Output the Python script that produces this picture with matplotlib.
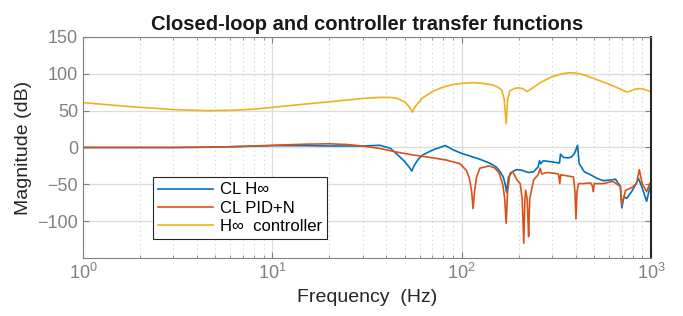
import numpy as np
import matplotlib
matplotlib.use("Agg")
import matplotlib.pyplot as plt
from matplotlib.ticker import LogLocator, NullFormatter

plt.rcParams['font.family'] = ['Liberation Sans', 'DejaVu Sans']
plt.rcParams['mathtext.fontset'] = 'custom'
plt.rcParams['mathtext.rm'] = 'Liberation Sans'
plt.rcParams['mathtext.it'] = 'Liberation Sans'

# CL H-infinity
f_hinf = [1, 2, 3, 5, 7, 10, 15, 20, 30, 37,
          42, 46, 50, 53, 54.6, 56, 59, 62.5, 70, 82,
          90, 100, 112, 125, 140, 147, 153, 160, 166, 170,
          173, 177, 185, 195, 209, 225, 240, 254, 258, 262,
          270, 290, 310, 325, 329, 333, 345, 365, 380, 395,
          410, 418, 445, 480, 520, 560, 620, 650, 690,
          702, 720, 745, 790, 820, 860, 900, 950, 985, 1000]
m_hinf = [0, 0, 0, 0.5, 1.5, 2.5, 2.5, 2, 2, 3,
          -1, -10, -19, -27, -32, -25, -16, -10, -3.6, 2.7,
          -3, -8, -12, -16, -21, -24, -27, -33, -40, -50,
          -61, -40, -33, -30, -31, -34, -33, -26, -18, -22,
          -18, -19, -20, -21, -21, -9, -13.5, -14, -13, -8,
          3, -22, -33, -37, -42, -45, -44, -43, -53,
          -82, -67, -69, -60, -53, -42, -55, -73, -55, -52]

# CL PID+N
f_pid = [1, 2, 3, 5, 7, 10, 15, 20, 25, 30,
         37, 45, 55, 70, 83, 98, 106, 110, 113, 115,
         117, 120, 125, 140, 150, 158, 165, 169, 172, 175,
         180, 186, 190, 196, 204, 209, 213, 216, 218, 222,
         224, 226, 229, 240, 254, 260, 265, 282, 310, 325,
         330, 334, 390, 397, 402, 407, 415, 440, 480, 490,
         496, 502, 560, 630, 690, 702, 735, 785, 840, 868,
         900, 950, 985, 1000]
m_pid = [0, 0, 0, 0.5, 1.5, 3, 4.5, 5, 4, 2,
         -1.3, -6, -10, -14, -17, -22, -31, -42, -60, -83,
         -60, -40, -28, -25, -28, -35, -50, -70, -103, -60,
         -35, -33, -37, -44, -49, -70, -130, -70, -58, -70,
         -95, -121, -70, -44, -37, -28, -36, -34, -35, -36,
         -49, -37, -40, -60, -97, -60, -49, -49, -48, -52,
         -60, -49, -49, -46, -53, -78, -58, -55, -49, -30,
         -49, -60, -49, -47]

# H-infinity controller
f_ctrl = [1, 1.5, 2, 3, 4.5, 6, 8, 10, 15, 20, 25, 30, 37, 42, 46, 50, 53, 55, 57, 62,
          70, 80, 90, 100, 115, 130, 145, 155, 163, 168, 172, 175, 180, 190, 200, 210,
          222, 235, 260, 300, 340, 370, 400, 450, 520, 600, 680, 740, 770, 820, 870,
          920, 1000]
m_ctrl = [61, 57, 54.5, 51.5, 50, 50.5, 52, 54.5, 59, 62, 64.5, 66.5, 68, 68, 66.5, 62, 55, 48, 56, 67,
          76, 82, 85.5, 87, 88, 87, 85, 82, 78, 65, 32, 65, 77, 80, 81, 80,
          76, 80, 88, 96, 100, 101.5, 101, 98, 92, 86, 80, 75.5, 76, 79, 80,
          79, 76]

fig = plt.figure(figsize=(6.83, 3.16), dpi=100)
ax = fig.add_axes([0.1215, 0.1835, 0.8315, 0.6995])

ax.semilogx(f_hinf, m_hinf, color='#0072BD', lw=1.2, label='CL H\u221e')
ax.semilogx(f_pid, m_pid, color='#D95319', lw=1.2, label='CL PID+N')
ax.semilogx(f_ctrl, m_ctrl, color='#EDB120', lw=1.2, label='H\u221e  controller')

ax.set_xlim(1, 1000)
ax.set_ylim(-150, 150)
ax.set_yticks([-100, -50, 0, 50, 100, 150])
ax.xaxis.set_minor_locator(LogLocator(base=10, subs=np.arange(2, 10)))
ax.xaxis.set_minor_formatter(NullFormatter())

ax.grid(True, which='major', color='#dcdcdc', lw=0.9)
ax.grid(True, which='minor', axis='x', color='#cccccc', lw=0.8, ls=(0, (1, 3)))
ax.set_axisbelow(True)

ax.tick_params(which='both', direction='in', top=True, right=True, colors='#808080',
               labelsize=13)
ax.tick_params(which='major', length=4)
ax.tick_params(which='minor', length=2)
for s in ax.spines.values():
    s.set_color('#808080')
ax.spines['right'].set_color('#262626')
ax.spines['right'].set_linewidth(1.5)

ax.set_xlabel('Frequency  (Hz)', fontsize=14, color='#262626')
ax.set_ylabel('Magnitude (dB)', fontsize=14, color='#262626')
ax.set_title('Closed-loop and controller transfer functions', fontsize=14.5,
             fontweight='bold', color='#1a1a1a', pad=5)

leg = ax.legend(loc='lower left', bbox_to_anchor=(0.123, 0.086), fontsize=12,
                frameon=True, fancybox=False, edgecolor='#262626', framealpha=1,
                handlelength=3.3, borderpad=0.3, labelspacing=0.2, handletextpad=0.4,
                borderaxespad=0)
leg.get_frame().set_linewidth(0.8)

fig.savefig('out.png', dpi=100)
